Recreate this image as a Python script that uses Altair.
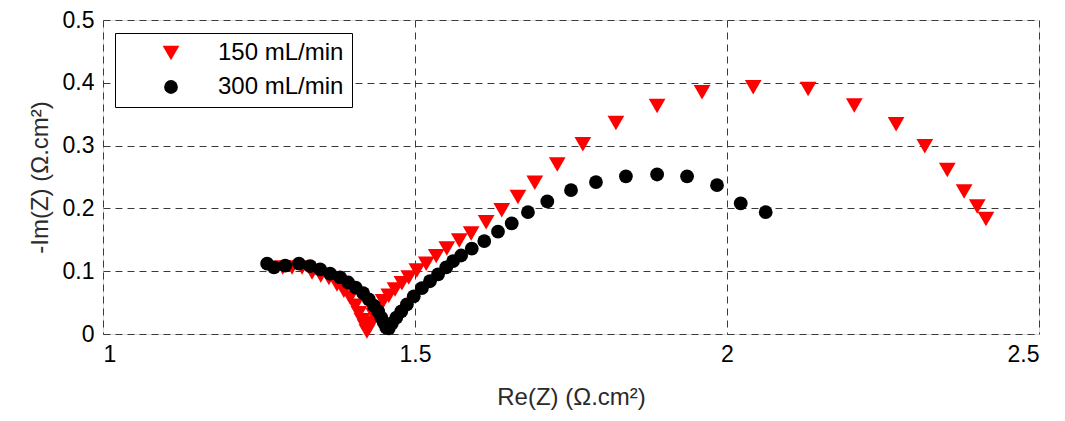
import altair as alt
import pandas as pd

series_names = ["150 mL/min", "300 mL/min"]

# 150 mL/min (red triangles)
red_re = [1.288, 1.303, 1.319, 1.335, 1.349, 1.362, 1.375, 1.386, 1.396, 1.404,
          1.410, 1.415, 1.420, 1.423, 1.426, 1.429, 1.434, 1.441, 1.449, 1.458,
          1.468, 1.479, 1.490, 1.503, 1.518, 1.534, 1.551, 1.571, 1.590, 1.614,
          1.639, 1.665, 1.692, 1.728, 1.769, 1.822, 1.888, 1.960, 2.042, 2.130,
          2.204, 2.271, 2.317, 2.353, 2.380, 2.401, 2.415]
red_im = [0.106, 0.106, 0.106, 0.098, 0.093, 0.089, 0.079, 0.069, 0.058, 0.045,
          0.033, 0.022, 0.012, 0.004, 0.009, 0.018, 0.030, 0.041, 0.052, 0.061,
          0.071, 0.081, 0.090, 0.101, 0.112, 0.124, 0.136, 0.149, 0.160, 0.178,
          0.197, 0.218, 0.241, 0.270, 0.302, 0.336, 0.363, 0.385, 0.393, 0.390,
          0.364, 0.334, 0.299, 0.261, 0.227, 0.203, 0.183]

# 300 mL/min (black circles)
black_re = [1.263, 1.274, 1.292, 1.314, 1.332, 1.348, 1.364, 1.380, 1.393, 1.405,
            1.417, 1.426, 1.434, 1.441, 1.446, 1.450, 1.454, 1.458, 1.463, 1.470,
            1.478, 1.487, 1.498, 1.511, 1.524, 1.537, 1.550, 1.561, 1.574, 1.591,
            1.611, 1.633, 1.655, 1.681, 1.712, 1.750, 1.790, 1.838, 1.888, 1.936,
            1.984, 2.022, 2.062]
black_im = [0.112, 0.106, 0.109, 0.112, 0.108, 0.103, 0.096, 0.090, 0.082, 0.074,
            0.065, 0.055, 0.045, 0.036, 0.026, 0.018, 0.010, 0.009, 0.017, 0.026,
            0.036, 0.047, 0.060, 0.073, 0.084, 0.095, 0.106, 0.116, 0.125, 0.136,
            0.148, 0.163, 0.176, 0.194, 0.211, 0.229, 0.242, 0.251, 0.254, 0.251,
            0.237, 0.208, 0.194]

x_ticks = [1, 1.5, 2, 2.5]
y_ticks = [0, 0.1, 0.2, 0.3, 0.4, 0.5]

df = pd.concat([
    pd.DataFrame({"re": red_re, "im": red_im, "series": series_names[0], "k": 0}),
    pd.DataFrame({"re": black_re, "im": black_im, "series": series_names[1], "k": 1}),
], ignore_index=True)

FONT = "Liberation Sans"

legend = alt.Legend(
    title=None, orient="none", legendX=12, legendY=13,
    strokeColor="black", fillColor="white", padding=8,
    labelFont=FONT, labelFontSize=24, labelColor="black",
    symbolOffset=36, labelOffset=35, rowPadding=10,
    symbolStrokeWidth=0, cornerRadius=0,
)

axis_common = dict(
    grid=True, gridDash=[7, 5], gridColor="#3a3a3a", gridOpacity=1,
    domain=False, ticks=False,
    labelFont=FONT, labelFontSize=23, labelColor="black",
    titleFont=FONT, titleFontSize=24, titleFontWeight="normal",
    titleColor="#2a2a2a",
)

chart = alt.Chart(df).mark_point(filled=True, opacity=1, strokeWidth=0).encode(
    x=alt.X("re:Q", scale=alt.Scale(domain=[1, 2.5], nice=False, zero=False),
            axis=alt.Axis(values=x_ticks, format="~g", title="Re(Z) (Ω.cm²)",
                          labelPadding=9, titlePadding=19, **axis_common)),
    y=alt.Y("im:Q", scale=alt.Scale(domain=[0, 0.5], nice=False),
            axis=alt.Axis(values=y_ticks, format="~g", title="-Im(Z) (Ω.cm²)",
                          labelPadding=9, titlePadding=10, **axis_common)),
    color=alt.Color("series:N", scale=alt.Scale(domain=series_names, range=["#ff0000", "#000000"]),
                    legend=legend),
    shape=alt.Shape("series:N", scale=alt.Scale(domain=series_names, range=["triangle-down", "circle"]),
                    legend=legend),
    size=alt.Size("series:N", scale=alt.Scale(domain=series_names, range=[280, 190]),
                  legend=legend),
    order=alt.Order("k:Q"),
).properties(
    width=936, height=314,
    autosize=alt.AutoSizeParams(type="none"),
    padding={"left": 103, "top": 20, "right": 26, "bottom": 87},
).configure_view(
    stroke="black", strokeWidth=1.2
).configure(background="white")

chart.save("out.html", embed_options={"renderer": "svg", "actions": False})
